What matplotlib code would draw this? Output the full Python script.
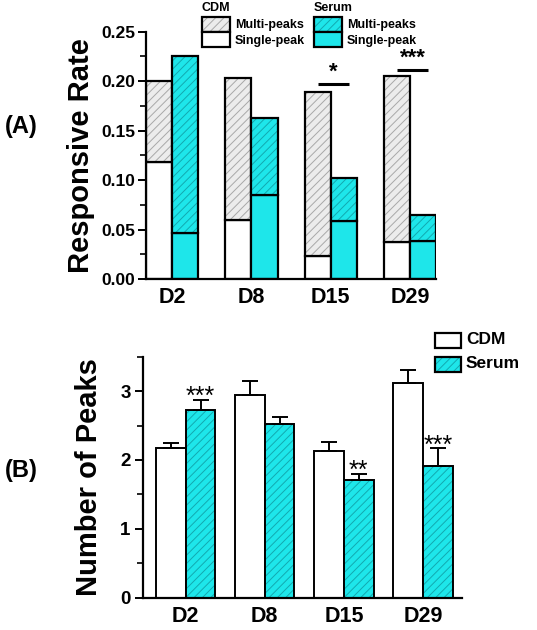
import numpy as np
import matplotlib
matplotlib.use("Agg")
import matplotlib.pyplot as plt
from matplotlib.patches import Rectangle
from matplotlib.ticker import MultipleLocator

plt.rcParams['font.family'] = ['Liberation Sans', 'DejaVu Sans']
plt.rcParams['font.weight'] = 'bold'
plt.rcParams['hatch.linewidth'] = 0.7

# ----------------- DATOS -----------------
days = ["D2", "D8", "D15", "D29"]

# (A) tasa de respuesta
cdm_single = [0.118, 0.060, 0.023, 0.037]
cdm_total = [0.200, 0.203, 0.189, 0.205]
serum_single = [0.047, 0.085, 0.059, 0.038]
serum_total = [0.225, 0.163, 0.102, 0.065]
sig_a = {2: ("*", 0.197), 3: ("***", 0.2115)}

# (B) número de picos
cdm_peaks = [2.18, 2.94, 2.13, 3.125]
cdm_err = [0.07, 0.20, 0.13, 0.18]
serum_peaks = [2.72, 2.525, 1.71, 1.91]
serum_err = [0.15, 0.10, 0.09, 0.26]
sig_b = ["***", "", "**", "***"]

CYAN = "#1ee6ea"
CYAN_H = "#12a9b0"
GRAY = "#ececec"
GRAY_H = "#a8a8a8"


def hatched_bar(ax, x, h, w, bottom, face, hcol, hatch="////", lw=1.6):
    # relleno con rayado y luego el contorno negro
    ax.bar(x, h, w, bottom=bottom, color=face, edgecolor=hcol,
           hatch=hatch, linewidth=0, align="edge")
    ax.bar(x, h, w, bottom=bottom, fill=False, edgecolor="black",
           linewidth=lw, align="edge")


def style_axis(ax):
    for s in ["top", "right"]:
        ax.spines[s].set_visible(False)
    for s in ["left", "bottom"]:
        ax.spines[s].set_linewidth(1.6)
    ax.tick_params(axis="y", which="major", direction="out", length=6,
                   width=1.4, labelsize=12.5, pad=2)
    ax.tick_params(axis="y", which="minor", direction="out", length=4,
                   width=1.2)
    ax.tick_params(axis="x", length=0, labelsize=15.5, pad=6)


fig = plt.figure(figsize=(5.37, 6.30), dpi=100)

# ----------------- PANEL A -----------------
axA = fig.add_axes([0.272, 0.557, 0.540, 0.3926])
x = np.arange(len(days))
w = 0.33
for i in range(len(days)):
    hatched_bar(axA, x[i] - w, cdm_single[i], w, 0, "white", "white", hatch=None)
    hatched_bar(axA, x[i] - w, cdm_total[i] - cdm_single[i], w, cdm_single[i],
                GRAY, GRAY_H)
    hatched_bar(axA, x[i], serum_single[i], w, 0, CYAN, CYAN, hatch=None)
    hatched_bar(axA, x[i], serum_total[i] - serum_single[i], w, serum_single[i],
                CYAN, CYAN_H)

for i, (txt, yv) in sig_a.items():
    axA.plot([x[i] - 0.16, x[i] + 0.23], [yv, yv], color="black", lw=2.2,
             solid_capstyle="butt")
    axA.text(x[i] + 0.035, yv + 0.001, txt, ha="center", va="bottom",
             fontsize=16, fontweight="bold")

axA.set_xlim(-0.33, 3.33)
axA.set_ylim(0, 0.25)
axA.yaxis.set_major_locator(MultipleLocator(0.05))
axA.yaxis.set_minor_locator(MultipleLocator(0.025))
axA.yaxis.set_major_formatter(matplotlib.ticker.FormatStrFormatter("%.2f"))
axA.set_xticks(x)
axA.set_xticklabels(days, fontweight="bold")
for lab in axA.get_yticklabels():
    lab.set_fontweight("bold")
style_axis(axA)
axA.set_ylabel("Responsive Rate", fontsize=21, fontweight="bold", labelpad=4)
fig.text(0.040, 0.800, "(A)", fontsize=17, fontweight="bold", ha="center",
         va="center")

# leyenda del panel A
def legend_box(x0, y0, bw, bh, face, hcol, hatch):
    r = Rectangle((x0, y0), bw, bh, transform=fig.transFigure,
                  facecolor=face, edgecolor=hcol, hatch=hatch, linewidth=0)
    fig.add_artist(r)
    r2 = Rectangle((x0, y0), bw, bh, transform=fig.transFigure, fill=False,
                   edgecolor="black", linewidth=1.6)
    fig.add_artist(r2)

bw, bh = 28 / 537, 15 / 630
for (lx, title, mface, mh, sface) in [(202, "CDM", GRAY, GRAY_H, "white"),
                                      (314, "Serum", CYAN, CYAN_H, CYAN)]:
    x0 = lx / 537
    legend_box(x0, 1 - 32 / 630, bw, bh, mface, mh, "////")
    legend_box(x0, 1 - 47 / 630, bw, bh, sface, sface, None)
    fig.text(x0, 1 - 8 / 630, title, fontsize=9, fontweight="bold",
             ha="left", va="center")
    fig.text(x0 + 33 / 537, 1 - 25 / 630, "Multi-peaks", fontsize=9,
             fontweight="bold", ha="left", va="center")
    fig.text(x0 + 33 / 537, 1 - 41 / 630, "Single-peak", fontsize=9,
             fontweight="bold", ha="left", va="center")

# ----------------- PANEL B -----------------
axB = fig.add_axes([0.2663, 0.0513, 0.5935, 0.3825])
wb = 0.375
for i in range(len(days)):
    hatched_bar(axB, x[i] - wb, cdm_peaks[i], wb, 0, "white", "white", hatch=None,
                lw=1.4)
    hatched_bar(axB, x[i], serum_peaks[i], wb, 0, CYAN, CYAN_H, lw=1.4)
axB.errorbar(x - wb / 2, cdm_peaks, yerr=[np.zeros(4), cdm_err], fmt="none",
             ecolor="black", elinewidth=1.4, capsize=5.5, capthick=1.4)
axB.errorbar(x + wb / 2, serum_peaks, yerr=[np.zeros(4), serum_err], fmt="none",
             ecolor="black", elinewidth=1.4, capsize=5.5, capthick=1.4)
for i, s in enumerate(sig_b):
    if s:
        axB.annotate(s, (x[i] + wb / 2, serum_peaks[i] + serum_err[i]),
                     xytext=(0, -3), textcoords="offset points", ha="center",
                     va="baseline", fontsize=18, fontweight="normal")

axB.set_xlim(-0.54, 3.49)
axB.set_ylim(0, 3.5)
axB.yaxis.set_major_locator(MultipleLocator(1))
axB.yaxis.set_minor_locator(MultipleLocator(0.5))
axB.set_xticks(x)
axB.set_xticklabels(days, fontweight="bold")
for lab in axB.get_yticklabels():
    lab.set_fontweight("bold")
style_axis(axB)
axB.tick_params(axis="y", labelsize=13.5, pad=3)
axB.set_ylabel("Number of Peaks", fontsize=21, fontweight="bold", labelpad=12)
fig.text(0.040, 0.253, "(B)", fontsize=17, fontweight="bold", ha="center",
         va="center")

# leyenda del panel B
bw2, bh2 = 26 / 537, 15 / 630
legend_box(435 / 537, 1 - 348 / 630, bw2, bh2, "white", "white", None)
legend_box(435 / 537, 1 - 372 / 630, bw2, bh2, CYAN, CYAN_H, "////")
fig.text(466 / 537, 1 - 340 / 630, "CDM", fontsize=12.5, fontweight="bold",
         ha="left", va="center")
fig.text(466 / 537, 1 - 364 / 630, "Serum", fontsize=12.5, fontweight="bold",
         ha="left", va="center")

fig.savefig("out.png", dpi=100)
